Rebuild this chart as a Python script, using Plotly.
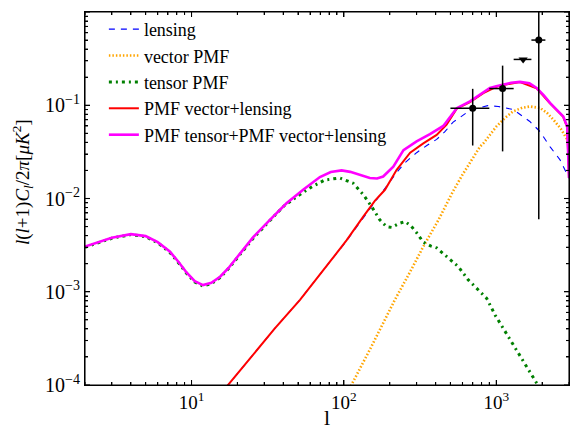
import plotly.graph_objects as go

# ---- data ----
lensing_l = [15, 17.4, 25, 35, 51.5, 81, 104, 134, 172, 222, 250, 300, 350, 406, 460, 521, 638, 750, 880, 1030, 1290, 1660, 1940, 2250, 2620, 3000]
lensing_c = [7.5e-5, 1.0e-4, 2.05e-4, 4.0e-4, 8.2e-4, 2.1e-3, 3.5e-3, 6.2e-3, 1.08e-2, 1.9e-2, 2.4e-2, 3.1e-2, 3.7e-2, 4.3e-2, 5.2e-2, 6.6e-2, 8.3e-2, 9.3e-2, 9.9e-2, 9.7e-2, 9.0e-2, 6.7e-2, 5.2e-2, 3.6e-2, 2.6e-2, 1.65e-2]

vector_l = [100, 112, 150, 216, 270, 332, 420, 521, 600, 672, 782, 822, 1000, 1150, 1290, 1480, 1660, 1940, 2150, 2370, 2650, 2920, 3000]
vector_c = [7.2e-5, 1.0e-4, 2.5e-4, 8.2e-4, 1.6e-3, 3.05e-3, 6.0e-3, 1.2e-2, 1.8e-2, 2.4e-2, 3.6e-2, 3.9e-2, 5.9e-2, 7.4e-2, 8.6e-2, 9.4e-2, 9.7e-2, 9.35e-2, 8.3e-2, 7.0e-2, 5.6e-2, 4.3e-2, 4.0e-2]

tensor_l = [2, 2.5, 3, 4, 5, 6, 7.2, 8.2, 9.3, 10.5, 11.9, 13.5, 15.4, 17.5, 19.8, 25.4, 32.7, 40, 50, 61.4, 75, 94, 115, 134, 152, 172, 190, 206, 230, 252, 275, 300, 332, 370, 406, 472, 563, 655, 762, 865, 984, 1265, 1580, 1890, 2200]
tensor_c = [3.0e-3, 3.4e-3, 3.75e-3, 4.1e-3, 3.9e-3, 3.35e-3, 2.65e-3, 2.05e-3, 1.57e-3, 1.27e-3, 1.15e-3, 1.22e-3, 1.42e-3, 1.77e-3, 2.25e-3, 3.75e-3, 5.8e-3, 8.2e-3, 1.07e-2, 1.33e-2, 1.58e-2, 1.66e-2, 1.46e-2, 1.1e-2, 8.2e-3, 5.9e-3, 5.0e-3, 4.9e-3, 5.4e-3, 5.66e-3, 5.1e-3, 4.3e-3, 3.4e-3, 3.1e-3, 2.95e-3, 2.38e-3, 1.86e-3, 1.34e-3, 1.06e-3, 8.5e-4, 5.6e-4, 2.9e-4, 1.6e-4, 1.0e-4, 6.5e-5]

vec_lens_l = [15, 17.4, 25, 35, 51.5, 81, 104, 134, 160, 186, 222, 272, 332, 406, 472, 550, 672, 822, 1000, 1112, 1430, 1840, 2250, 2750, 2920, 3000]
vec_lens_c = [7.5e-5, 1.0e-4, 2.05e-4, 4.0e-4, 8.2e-4, 2.1e-3, 3.55e-3, 6.4e-3, 9.5e-3, 1.24e-2, 2.03e-2, 3.1e-2, 3.9e-2, 4.8e-2, 6.2e-2, 9.2e-2, 0.108, 0.135, 0.158, 0.165, 0.177, 0.152, 0.105, 0.075, 0.058, 0.0166]

total_l = [2, 2.5, 3, 4, 5, 6, 7.2, 8.2, 9.3, 10.5, 11.9, 13.5, 15.4, 17.5, 19.8, 25.4, 32.7, 42, 54, 69.6, 82, 96.6, 110, 125, 148, 165, 181, 211, 246, 300, 367, 449, 550, 672, 822, 908, 1000, 1112, 1250, 1430, 1650, 1840, 2050, 2250, 2500, 2750, 2920, 3000]
total_c = [3.05e-3, 3.45e-3, 3.8e-3, 4.15e-3, 3.95e-3, 3.4e-3, 2.7e-3, 2.1e-3, 1.6e-3, 1.3e-3, 1.18e-3, 1.25e-3, 1.45e-3, 1.8e-3, 2.3e-3, 3.85e-3, 5.9e-3, 8.9e-3, 1.24e-2, 1.7e-2, 1.92e-2, 2.0e-2, 1.93e-2, 1.8e-2, 1.66e-2, 1.64e-2, 1.72e-2, 2.2e-2, 3.3e-2, 4.1e-2, 4.9e-2, 6.0e-2, 9.3e-2, 0.110, 0.138, 0.153, 0.160, 0.166, 0.174, 0.178, 0.172, 0.153, 0.128, 0.106, 0.09, 0.076, 0.059, 0.0166]

data_l = [700, 1100, 1900]
data_c = [0.093, 0.151, 0.50]
data_err_up = [0.057, 0.115, 1.0]
data_err_down = [0.056, 0.119, 0.494]
data_l_err = [200, 200, 200]

limit_l = [1500]
limit_c = [0.31]
limit_l_err = [200]

legend_names = ["lensing", "vector PMF", "tensor PMF", "PMF vector+lensing", "PMF tensor+PMF vector+lensing"]

x_range = [2, 3000]
y_range = [1e-4, 1]
x_tick_vals = [10, 100, 1000]
x_tick_text = ["10<sup>1</sup>", "10<sup>2</sup>", "10<sup>3</sup>"]
y_tick_vals = [1e-4, 1e-3, 1e-2, 1e-1, 1]
y_tick_text = ["10<sup>\u22124</sup>", "10<sup>\u22123</sup>", "10<sup>\u22122</sup>", "10<sup>\u22121</sup>", "10<sup>0</sup>"]
x_minor_vals = [m * 10 ** e for e in range(0, 4) for m in range(2, 10) if 2 <= m * 10 ** e <= 3000]
y_minor_vals = [m * 10.0 ** e for e in range(-4, 0) for m in range(2, 10)]

FONT = "Liberation Serif"
W, H = 578, 436
M = dict(l=85, r=9, t=12, b=51)
PLOT_W = W - M["l"] - M["r"]
PLOT_H = H - M["t"] - M["b"]
X_DEC = (3.47712 - 0.30103) / PLOT_W   # decades per pixel on x
Y_DEC = 4.0 / PLOT_H                    # decades per pixel on y

fig = go.Figure()
fig.add_trace(go.Scatter(x=lensing_l, y=lensing_c, mode="lines", name=legend_names[0], legendgroup="a",
                         line=dict(color="#0000ff", width=1.1, dash="6px,6px")))
fig.add_trace(go.Scatter(x=vector_l, y=vector_c, mode="lines", name=legend_names[1], legendgroup="b",
                         line=dict(color="#ffa500", width=2.6, dash="1.5px,2px")))
fig.add_trace(go.Scatter(x=tensor_l, y=tensor_c, mode="lines", name=legend_names[2], legendgroup="c",
                         line=dict(color="#008000", width=3, dash="3px,4px,2px,4px")))
fig.add_trace(go.Scatter(x=vec_lens_l, y=vec_lens_c, mode="lines", name=legend_names[3], legendgroup="d",
                         line=dict(color="#ff0000", width=2)))
fig.add_trace(go.Scatter(x=total_l, y=total_c, mode="lines", name=legend_names[4], legendgroup="e",
                         line=dict(color="#ff00ff", width=2.6)))
fig.add_trace(go.Scatter(x=data_l, y=data_c, mode="markers", showlegend=False,
                         marker=dict(symbol="circle", size=7, color="black"),
                         error_y=dict(type="data", array=data_err_up, arrayminus=data_err_down,
                                      color="black", thickness=1.5, width=0),
                         error_x=dict(type="data", array=data_l_err, color="black", thickness=1.5, width=0)))
fig.add_trace(go.Scatter(x=limit_l, y=limit_c, mode="markers", showlegend=False,
                         marker=dict(symbol="triangle-down", size=8, color="black"),
                         error_x=dict(type="data", array=limit_l_err, color="black", thickness=1.5, width=0)))

# axis frame and inside tick marks on all four sides (drawn through the log scales)
fx, fy = [], []
fx += [x_range[0], x_range[1], x_range[1], x_range[0], x_range[0], None]
fy += [y_range[0], y_range[0], y_range[1], y_range[1], y_range[0], None]
for vals, px in ((x_tick_vals, 5), (x_minor_vals, 3)):
    for v in vals:
        fx += [v, v, None, v, v, None]
        fy += [y_range[0], y_range[0] * 10 ** (px * Y_DEC), None,
               y_range[1], y_range[1] * 10 ** (-px * Y_DEC), None]
for vals, px in ((y_tick_vals, 5), (y_minor_vals, 3)):
    for v in vals:
        fx += [x_range[0], x_range[0] * 10 ** (px * X_DEC), None,
               x_range[1], x_range[1] * 10 ** (-px * X_DEC), None]
        fy += [v, v, None, v, v, None]
fig.add_trace(go.Scatter(x=fx, y=fy, mode="lines", showlegend=False, hoverinfo="skip",
                         cliponaxis=False, connectgaps=False, line=dict(color="black", width=1.1)))

axis_common = dict(type="log", showgrid=False, zeroline=False, showline=True, linecolor="#000000",
                   linewidth=1, mirror="allticks", ticks="inside", ticklen=5, tickwidth=1,
                   tickcolor="#000000", tickmode="array", automargin=False,
                   minor=dict(ticks="inside", ticklen=3, tickwidth=1, tickcolor="#000000",
                              dtick="D1", showgrid=False))

fig.update_xaxes(**axis_common, range=[0.30103, 3.47712], tickvals=x_tick_vals, ticktext=x_tick_text,
                 tickfont=dict(family=FONT, size=19, color="black"))
fig.update_yaxes(**axis_common, range=[-4, 0], tickvals=y_tick_vals, ticktext=y_tick_text,
                 tickfont=dict(family=FONT, size=20, color="black"))

fig.update_layout(
    width=W, height=H,
    margin=dict(**M, pad=0, autoexpand=False),
    paper_bgcolor="white", plot_bgcolor="white",
    font=dict(family=FONT, size=16, color="black"),
    showlegend=True,
    legend=dict(x=0.039, y=1.003, xanchor="left", yanchor="top", bgcolor="rgba(0,0,0,0)",
                borderwidth=0, font=dict(family=FONT, size=18, color="black"),
                tracegroupgap=0, traceorder="normal"),
    annotations=[
        dict(text="<i>l</i>(<i>l</i>+1)<i>C<sub>l</sub></i>/2<i>\u03c0</i>[<i>\u03bcK</i><sup>2</sup>]",
             xref="paper", yref="paper", x=-0.129, y=0.543, xanchor="center", yanchor="middle",
             textangle=-90, showarrow=False, font=dict(family=FONT, size=19, color="black")),
        dict(text="l", xref="paper", yref="paper", x=0.5, y=-0.126, xanchor="center", yanchor="bottom",
             showarrow=False, font=dict(family=FONT, size=22, color="black")),
    ],
)

fig.write_html("out.html", config={"displayModeBar": False},
               post_script="document.body.style.margin='0';")
